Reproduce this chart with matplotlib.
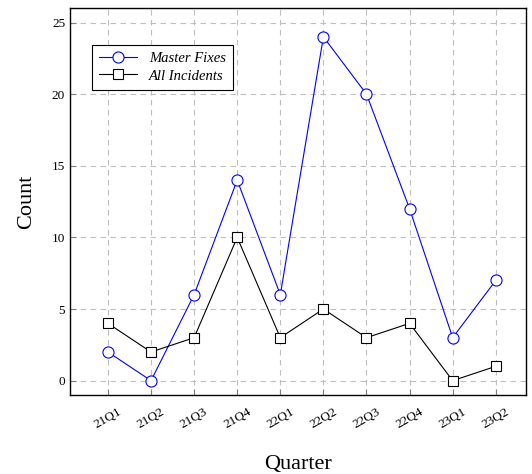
import numpy as np
import matplotlib.pyplot as plt

quarters = ["21Q1", "21Q2", "21Q3", "21Q4", "22Q1", "22Q2", "22Q3", "22Q4", "23Q1", "23Q2"]
master_fixes = [2, 0, 6, 14, 6, 24, 20, 12, 3, 7]
all_incidents = [4, 2, 3, 10, 3, 5, 3, 4, 0, 1]

plt.rcParams['font.family'] = ['Liberation Serif', 'DejaVu Serif']

fig = plt.figure(figsize=(5.32, 4.74), dpi=100)
ax = fig.add_axes([0.1316, 0.1667, 0.857, 0.816])

x = np.arange(len(quarters))
ax.plot(x, master_fixes, color="blue", lw=0.8, marker="o", markersize=8,
        markerfacecolor="white", markeredgewidth=0.8, label="Master Fixes", zorder=3)
ax.plot(x, all_incidents, color="black", lw=0.8, marker="s", markersize=7.5,
        markerfacecolor="white", markeredgewidth=0.8, label="All Incidents", zorder=3)

ax.set_xlim(-0.88, 9.7)
ax.set_ylim(-1, 26)
ax.set_xticks(x)
ax.set_xticklabels(quarters, rotation=30, fontsize=9.5)
ax.set_yticks([0, 5, 10, 15, 20, 25])
ax.tick_params(axis="y", labelsize=9.5, direction="in", length=4, color="0.5")
ax.tick_params(axis="x", direction="in", length=4, color="0.5", pad=8)
ax.grid(True, color="0.75", linestyle=(0, (5, 4)), lw=0.8)
ax.set_axisbelow(True)
for s in ax.spines.values():
    s.set_linewidth(1.0)

ax.set_xlabel("Quarter", fontsize=16, labelpad=17)
ax.set_ylabel("Count", fontsize=16, labelpad=11)

leg = ax.legend(loc="upper left", bbox_to_anchor=(0.032, 0.925), fancybox=False,
                edgecolor="black", framealpha=1, prop={"style": "italic", "size": 10.5},
                handlelength=2.6, borderpad=0.5, labelspacing=0.3)
leg.get_frame().set_linewidth(0.8)

fig.savefig("out.png", dpi=100)
